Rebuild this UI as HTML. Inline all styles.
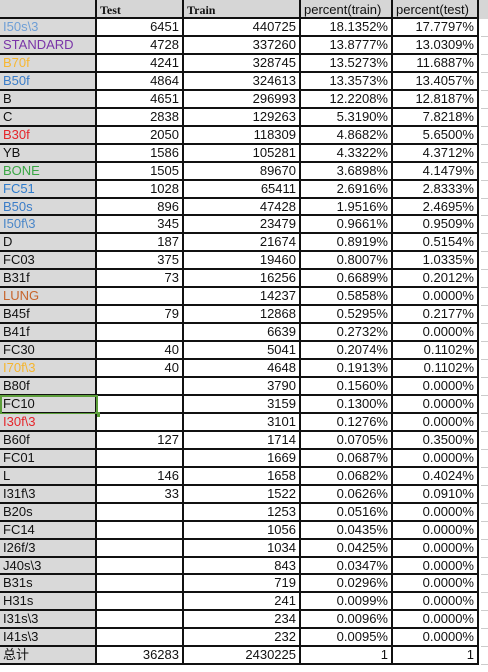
<!DOCTYPE html>
<html><head><meta charset="utf-8">
<style>
body{margin:0;width:488px;height:672px;overflow:hidden;background:#fff;font-family:"Liberation Sans","Noto Sans CJK SC",sans-serif;}
#sheet{position:absolute;left:0;top:0;width:488px;height:672px;}
.c{position:absolute;box-sizing:border-box;font-size:13px;line-height:16px;white-space:nowrap;overflow:hidden;color:#111;padding:0 3px;}
.r{text-align:right;}
.hd{background:#d6d6d6;}
.ser{font-family:"Liberation Serif",serif;font-size:12px;font-weight:bold;}
.lbl{background:#d9d9d9;}
</style></head><body>
<div id="sheet"></div>
<script>
const labels=["I50s\\3","STANDARD","B70f","B50f","B","C","B30f","YB","BONE","FC51","B50s","I50f\\3","D","FC03","B31f","LUNG","B45f","B41f","FC30","I70f\\3","B80f","FC10","I30f\\3","B60f","FC01","L","I31f\\3","B20s","FC14","I26f/3","J40s\\3","B31s","H31s","I31s\\3","I41s\\3","总计"];
const colors={"I50s\\3":"#6f9fd6","STANDARD":"#7a35a8","B70f":"#f7b731","B50f":"#3b7dc8","B30f":"#e5262b","BONE":"#3aa745","FC51":"#2f7ccc","B50s":"#3b7dc8","I50f\\3":"#4a86c8","LUNG":"#c7652c","I70f\\3":"#f5b52e","I30f\\3":"#e5262b"};
const test=["6451","4728","4241","4864","4651","2838","2050","1586","1505","1028","896","345","187","375","73","","79","","40","40","","","","127","","146","33","","","","","","","","","36283"];
const train=["440725","337260","328745","324613","296993","129263","118309","105281","89670","65411","47428","23479","21674","19460","16256","14237","12868","6639","5041","4648","3790","3159","3101","1714","1669","1658","1522","1253","1056","1034","843","719","241","234","232","2430225"];
const ptrain=["18.1352%","13.8777%","13.5273%","13.3573%","12.2208%","5.3190%","4.8682%","4.3322%","3.6898%","2.6916%","1.9516%","0.9661%","0.8919%","0.8007%","0.6689%","0.5858%","0.5295%","0.2732%","0.2074%","0.1913%","0.1560%","0.1300%","0.1276%","0.0705%","0.0687%","0.0682%","0.0626%","0.0516%","0.0435%","0.0425%","0.0347%","0.0296%","0.0099%","0.0096%","0.0095%","1"];
const ptest=["17.7797%","13.0309%","11.6887%","13.4057%","12.8187%","7.8218%","5.6500%","4.3712%","4.1479%","2.8333%","2.4695%","0.9509%","0.5154%","1.0335%","0.2012%","0.0000%","0.2177%","0.0000%","0.1102%","0.1102%","0.0000%","0.0000%","0.0000%","0.3500%","0.0000%","0.4024%","0.0910%","0.0000%","0.0000%","0.0000%","0.0000%","0.0000%","0.0000%","0.0000%","0.0000%","1"];
const xs=[0,97,184,301,393,479];
const H=19,h=17.95;
const sheet=document.getElementById('sheet');
function cell(x0,x1,y0,y1,text,cls,name){
  const d=document.createElement('div');
  d.className='c '+cls;
  d.style.left=x0+'px';d.style.top=y0+'px';d.style.width=(x1-x0)+'px';d.style.height=(y1-y0)+'px';
  d.style.borderRight='2px solid #111';d.style.borderBottom='2px solid #111';
  d.style.paddingTop=Math.max(0,(y1-y0-18))+'px';
  d.textContent=text;
  
  
  sheet.appendChild(d);return d;
}
const heads=["","Test","Train","percent(train)","percent(test)"];
const hcls=["hd","hd ser","hd ser","hd","hd"];
for(let c=0;c<5;c++){const d=cell(xs[c],xs[c+1],0,H,heads[c],hcls[c],'header-'+(heads[c]||'blank').replace(/[()]/g,'-'));d.style.paddingTop='2px';}
const ex=document.createElement('div');
ex.style.cssText='position:absolute;left:479px;top:0;width:9px;height:'+H+'px;background:#d6d6d6;';


sheet.appendChild(ex);
for(let i=0;i<labels.length;i++){
  const y0=Math.round(H+i*h),y1=Math.round(H+(i+1)*h);
  const a=cell(xs[0],xs[1],y0,y1,labels[i],'lbl','row-label');
  if(colors[labels[i]])a.style.color=colors[labels[i]];
  cell(xs[1],xs[2],y0,y1,test[i],'r','test-value');
  cell(xs[2],xs[3],y0,y1,train[i],'r','train-value');
  cell(xs[3],xs[4],y0,y1,ptrain[i],'r','percent-train-value');
  cell(xs[4],xs[5],y0,y1,ptest[i],'r','percent-test-value');
  const g=document.createElement('div');
  g.style.cssText='position:absolute;left:481px;width:7px;top:'+(y1-1)+'px;height:1px;background:#ccc;';
  
  
  sheet.appendChild(g);
  if(labels[i]==="FC10"){
    const s=document.createElement('div');
    s.style.cssText='position:absolute;left:0;top:'+(y0-1)+'px;width:98px;height:'+(y1-y0+2)+'px;box-sizing:border-box;border:2px solid #5c9e3a;';
    
    
    sheet.appendChild(s);
    const k=document.createElement('div');
    k.style.cssText='position:absolute;left:95px;top:'+(y1-2)+'px;width:5px;height:5px;background:#5c9e3a;';
    
    
    sheet.appendChild(k);
  }
}
</script>
</body></html>
